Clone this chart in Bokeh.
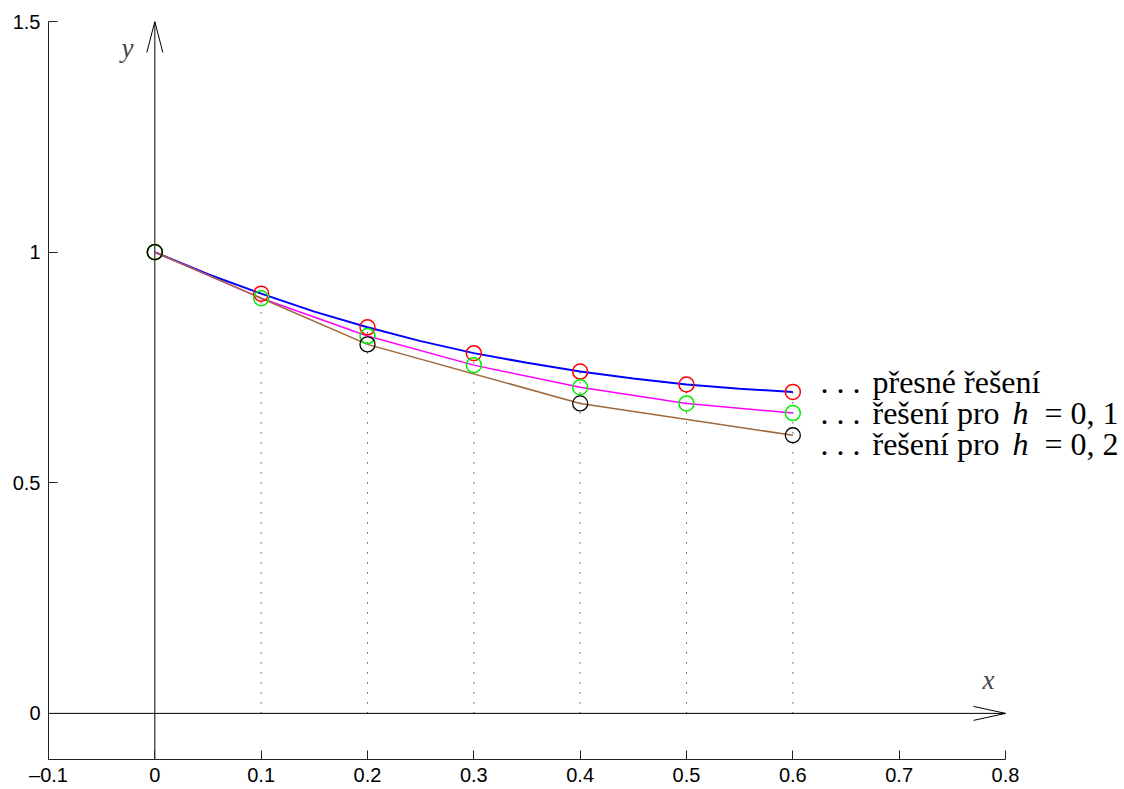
from bokeh.plotting import figure
from bokeh.models import Range1d, FixedTicker, Label
from bokeh.embed import file_html
from bokeh.resources import INLINE

# ---- data ----
x_nodes = [0.0, 0.1, 0.2, 0.3, 0.4, 0.5, 0.6]
y_exact_nodes = [1.0, 0.910, 0.837, 0.781, 0.741, 0.713, 0.697]
y_h01 = [1.0, 0.900, 0.818, 0.755, 0.707, 0.672, 0.651]
x_h02 = [0.0, 0.2, 0.4, 0.6]
y_h02 = [1.0, 0.800, 0.672, 0.603]
x_curve = [0.0, 0.05, 0.1, 0.15, 0.2, 0.25, 0.3, 0.35, 0.4, 0.45, 0.5, 0.55, 0.6]
y_curve = [1.0, 0.952, 0.910, 0.871, 0.837, 0.807, 0.781, 0.760, 0.741, 0.726, 0.713, 0.704, 0.697]
x_ticks = [-0.1, 0.0, 0.1, 0.2, 0.3, 0.4, 0.5, 0.6, 0.7, 0.8]
x_tick_labels = ["\u20130.1", "0", "0.1", "0.2", "0.3", "0.4", "0.5", "0.6", "0.7", "0.8"]
y_ticks = [0.0, 0.5, 1.0, 1.5]
y_tick_labels = ["0", "0.5", "1", "1.5"]

X0, X1 = -0.1, 0.8
Y0, Y1 = -0.1, 1.5

# ---- layout ----
LEFT, TOP = 48, 21          # frame origin on page
AXW, FH = 957, 738          # axes box size
FW = 1124 - LEFT            # frame extends to page edge so text is not clipped
sx = (X1 - X0) / AXW
sy = (Y1 - Y0) / FH
XR = X0 + FW * sx

def pxd(px, py):
    return X0 + (px - LEFT) * sx, Y1 - (py - TOP) * sy

p = figure(frame_width=FW, frame_height=FH, x_range=Range1d(X0, XR), y_range=Range1d(Y0, Y1),
           output_backend="svg", toolbar_location=None,
           min_border_left=LEFT, min_border_right=0, min_border_top=TOP, min_border_bottom=28)
p.xgrid.visible = False
p.ygrid.visible = False
p.outline_line_color = None

p.xaxis.ticker = FixedTicker(ticks=x_ticks)
p.yaxis.ticker = FixedTicker(ticks=y_ticks)
p.xaxis.bounds = (X0, X1)
p.xaxis.major_label_overrides = {t: l for t, l in zip(x_ticks, x_tick_labels)}
p.yaxis.major_label_overrides = {t: l for t, l in zip(y_ticks, y_tick_labels)}
for ax in (p.xaxis[0], p.yaxis[0]):
    ax.minor_tick_line_color = None
    ax.major_tick_in = 9
    ax.major_tick_out = 0
    ax.axis_line_color = "#222222"
    ax.major_tick_line_color = "#222222"
    ax.major_label_text_font = "Liberation Sans"
    ax.major_label_text_font_size = "20px"
    ax.major_label_text_color = "black"
p.xaxis.major_label_standoff = 4
p.yaxis.major_label_standoff = 8

# coordinate axes through origin with open arrow heads
p.line([X0, X1], [0, 0], line_color="black", line_width=1)
p.line([0, 0], [Y0, Y1], line_color="black", line_width=1)
p.line([X1 - 32 * sx, X1, X1 - 32 * sx], [7 * sy, 0, -7 * sy], line_color="black", line_width=1)
p.line([-8 * sx, 0, 8 * sx], [Y1 - 31 * sy, Y1, Y1 - 31 * sy], line_color="black", line_width=1)

# dotted verticals
p.segment(x0=x_nodes[1:], y0=[0] * (len(x_nodes) - 1), x1=x_nodes[1:], y1=y_exact_nodes[1:],
          line_color="black", line_width=1, line_dash="1 9")

# curves
p.line(x_curve, y_curve, line_color="#0000ff", line_width=2)
p.line(x_nodes, y_h01, line_color="#ff00ff", line_width=1.5)
p.line(x_h02, y_h02, line_color="#a0683a", line_width=1.5)

# markers
p.scatter(x_nodes, y_exact_nodes, marker="circle", size=15, fill_color=None, line_color="#ff0000", line_width=1.5)
p.scatter(x_nodes, y_h01, marker="circle", size=15, fill_color=None, line_color="#00ee00", line_width=1.5)
p.scatter(x_h02, y_h02, marker="circle", size=15, fill_color=None, line_color="black", line_width=1.3)

# axis letters
xx, xy = pxd(988, 679)
p.add_layout(Label(x=xx, y=xy, text="x", text_font="Liberation Serif", text_font_style="italic",
                   text_font_size="27px", text_align="center", text_baseline="middle"))
yx, yy = pxd(127, 47)
p.add_layout(Label(x=yx, y=yy, text="y", text_font="Liberation Serif", text_font_style="italic",
                   text_font_size="27px", text_align="center", text_baseline="middle"))

# legend texts
FS = "32px"
def txt(px, py, s, style="normal"):
    lx, ly = pxd(px, py)
    p.add_layout(Label(x=lx, y=ly, text=s, text_font="Liberation Serif", text_font_style=style,
                       text_font_size=FS, text_align="left", text_baseline="alphabetic", text_color="black"))

base = [381, 412, 443]
for b in base:
    txt(820, b, ". . .")
txt(872, base[0], "p\u0159esn\u00e9 \u0159e\u0161en\u00ed")
txt(872, base[1], "\u0159e\u0161en\u00ed pro")
txt(1012, base[1], "h", "italic")
txt(1044, base[1], "= 0, 1")
txt(872, base[2], "\u0159e\u0161en\u00ed pro")
txt(1012, base[2], "h", "italic")
txt(1044, base[2], "= 0, 2")

open("out.html", "w").write(file_html(p, INLINE))
